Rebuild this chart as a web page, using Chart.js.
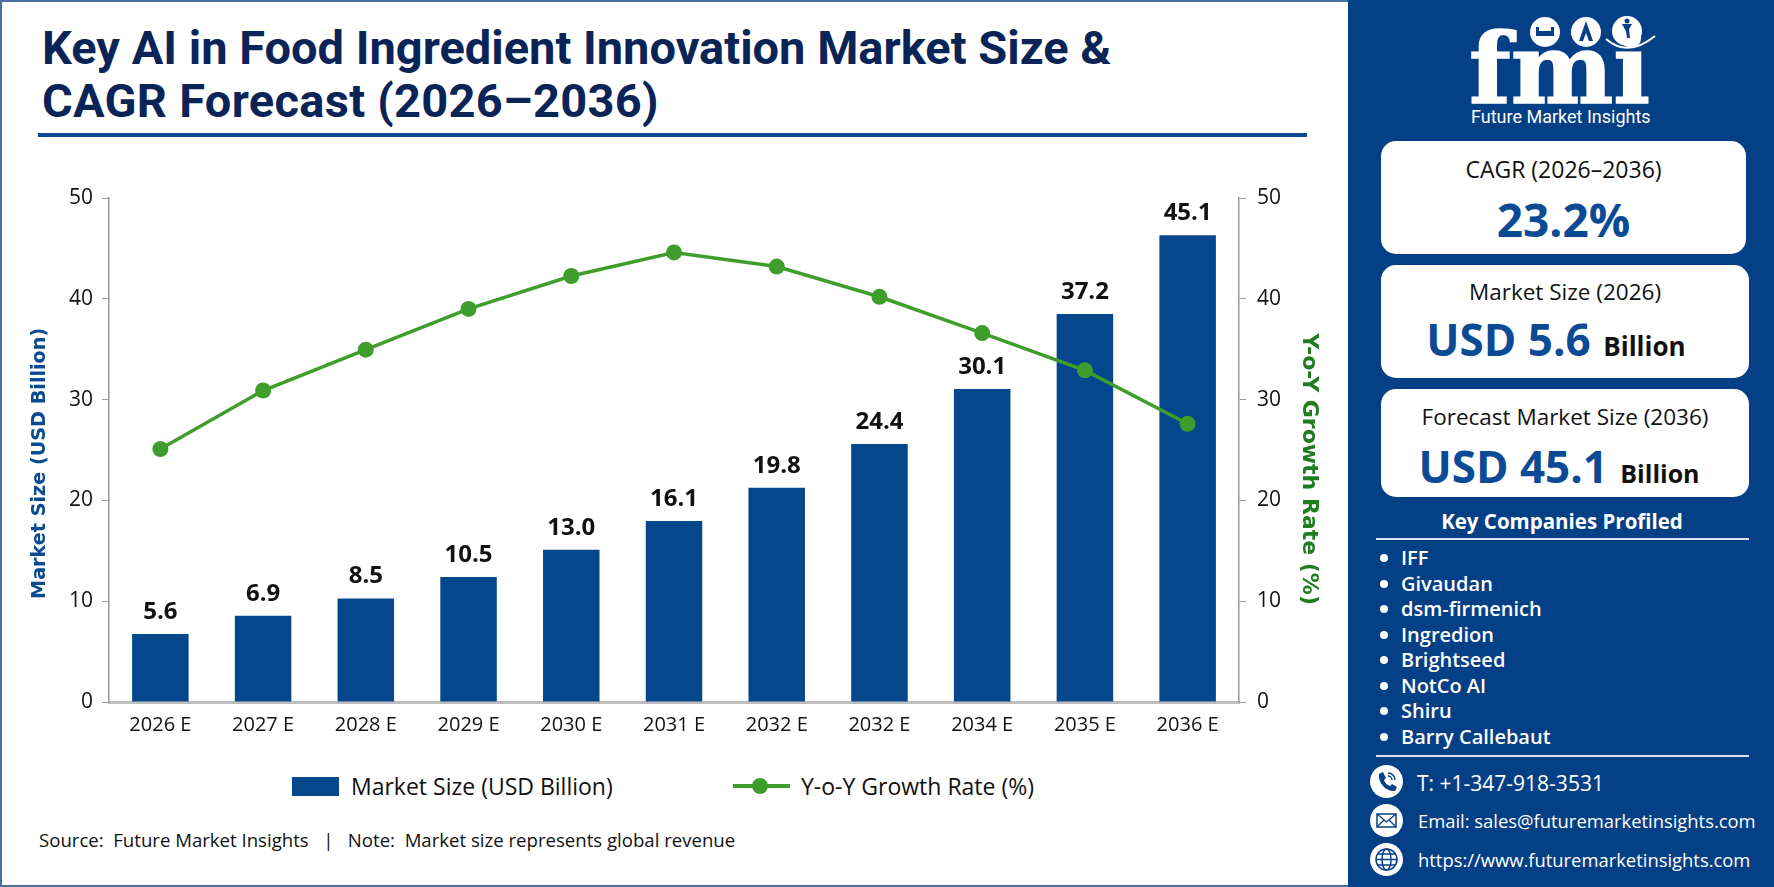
<!DOCTYPE html>
<html>
<head>
<meta charset="utf-8">
<title>Key AI in Food Ingredient Innovation Market Size</title>
<script src="https://cdn.jsdelivr.net/npm/chart.js@4"></script>
<style>
  html, body { margin: 0; padding: 0; background: #fff; }
  body { width: 1774px; height: 887px; position: relative; overflow: hidden; font-family: "Open Sans", sans-serif; color: #111; }
  .abs { position: absolute; white-space: nowrap; }
  #frame { left: 0; top: 0; width: 1348px; height: 887px; box-sizing: border-box; border: solid #4a70a0; border-width: 2px 0 2px 2px; }
  #chartBox { position: absolute; left: 0; top: 0; }
  #title { left: 42px; top: 21px; font-size: 47px; line-height: 53px; font-weight: 700; color: #0b2458; font-family: Roboto, sans-serif; }
  #rule { left: 38px; top: 133px; width: 1269px; height: 4px; background: #0d4a94; }
  .lgText { font-size: 23px; line-height: 30px; }
  #source { left: 39px; top: 827px; font-size: 18.6px; line-height: 26px; white-space: pre; }
  #side { left: 1348px; top: 0; width: 426px; height: 887px; background: #053f85; }
  .card { position: absolute; background: #fff; border-radius: 15px; }
  .cardHead { position: absolute; left: 0; width: 100%; box-sizing: border-box; text-align: center; font-size: 22.5px; line-height: 28px; color: #111; }
  .big { font-weight: 700; color: #0b4a94; }
  .blk { font-weight: 700; color: #111; }
  .white { color: #fff; }
  .hr { position: absolute; height: 2px; background: #d8e2f0; }
  .dot { position: absolute; width: 8px; height: 8px; border-radius: 50%; background: #fff; }
  .icon { position: absolute; width: 33px; height: 33px; }
</style>
</head>
<body>
<div class="abs" id="frame"></div>
<div class="abs" id="title"><span id="t1">Key AI in Food Ingredient Innovation Market Size &amp;</span><br><span id="t2" style="letter-spacing:0.3px">CAGR Forecast (2026–2036)</span></div>
<div class="abs" id="rule"></div>
<div id="chartBox"><canvas id="myChart" width="1353" height="760"></canvas></div>
<div class="abs" id="legend"></div>
<div class="abs" id="source">Source:  Future Market Insights   |   Note:  Market size represents global revenue</div>

<div class="abs" id="side"></div>
<svg class="abs" style="left:1348px;top:0" width="426" height="112" viewBox="1348 0 426 112">
  <text x="1469" y="103" font-family="DejaVu Serif" font-weight="700" font-size="97" fill="#fff" stroke="#fff" stroke-width="1.5">fmi</text>
  <circle cx="1545" cy="32" r="15" fill="#fff"/>
  <circle cx="1586" cy="32" r="15" fill="#fff"/>
  <circle cx="1627" cy="31" r="15" fill="#fff"/>
  <path d="M1536 27v9h18v-9h-3v4h-12v-4z" fill="#053f85"/>
  <path d="M1586 21l7 20h-4l-3-8-3 8h-4z" fill="#053f85"/>
  <path d="M1622 24h10l-3 5 1 9h-3l-1-7z" fill="#053f85"/>
  <circle cx="1627" cy="21" r="2.5" fill="#053f85"/>
  <path d="M1606 39q22 19 49-3" fill="none" stroke="#fff" stroke-width="2"/>
</svg>
<div class="abs white" style="left:1471px;top:103px;font-size:18px;line-height:28px;font-family:Roboto,sans-serif">Future Market Insights</div>

<div class="card" style="left:1381px;top:141px;width:365px;height:113px">
  <div class="cardHead" style="top:14px;font-size:23px">CAGR (2026–2036)</div>
  <div class="cardHead big" style="top:46px;font-size:46px;line-height:64px">23.2%</div>
</div>
<div class="card" style="left:1381px;top:265px;width:368px;height:113px">
  <div class="cardHead" style="top:13px">Market Size (2026)</div>
  <div class="cardHead" style="top:42px;line-height:64px;padding-right:18px"><span class="big" style="font-size:44px">USD 5.6</span> <span class="blk" style="font-size:26px">&nbsp;Billion</span></div>
</div>
<div class="card" style="left:1381px;top:389px;width:368px;height:108px">
  <div class="cardHead" style="top:14px">Forecast Market Size (2036)</div>
  <div class="cardHead" style="top:45px;line-height:64px;padding-right:12px"><span class="big" style="font-size:44px">USD 45.1</span> <span class="blk" style="font-size:25px">&nbsp;Billion</span></div>
</div>

<div class="abs white" style="left:1381px;width:362px;top:507px;text-align:center;font-size:20.5px;line-height:28px;font-weight:700">Key Companies Profiled</div>
<div class="hr" style="left:1376px;top:538px;width:373px"></div>
<div id="companies"></div>
<div class="hr" style="left:1376px;top:755px;width:373px"></div>

<svg class="icon" style="left:1370px;top:765px" viewBox="0 0 33 33"><circle cx="16.5" cy="16.5" r="16.5" fill="#fff"/><path d="M9 9l4-2 3 6-2 2c1 3 3 5 6 6l2-2 5 3-2 4c-9 1-17-8-16-17z" fill="#053f85"/><path d="M18 8a7 7 0 0 1 7 7M18 11a4 4 0 0 1 4 4" fill="none" stroke="#053f85" stroke-width="1.5"/></svg>
<svg class="icon" style="left:1370px;top:804px" viewBox="0 0 33 33"><circle cx="16.5" cy="16.5" r="16.5" fill="#fff"/><rect x="7" y="10" width="19" height="13" fill="none" stroke="#053f85" stroke-width="1.5"/><path d="M7 10l9.500 8 9.500-8M7 23l7-7M26 23l-7-7" fill="none" stroke="#053f85" stroke-width="1.3"/></svg>
<svg class="icon" style="left:1370px;top:843px" viewBox="0 0 33 33"><circle cx="16.5" cy="16.500" r="16.5" fill="#fff"/><g fill="none" stroke="#053f85" stroke-width="1.500"><circle cx="16.5" cy="16.5" r="10.500"/><ellipse cx="16.5" cy="16.5" rx="4.500" ry="10.500"/><path d="M6 16.500h21M8 11h17M8 22h17"/></g></svg>
<div class="abs white" style="left:1417px;top:769px;font-size:21px;line-height:28px">T: +1-347-918-3531</div>
<div class="abs white" style="left:1418px;top:807px;font-size:18.4px;line-height:28px">Email: sales@futuremarketinsights.com</div>
<div class="abs white" style="left:1418px;top:846px;font-size:18.4px;line-height:28px">https://www.futuremarketinsights.com</div>

<script>
const years = ['2026 E','2027 E','2028 E','2029 E','2030 E','2031 E','2032 E','2032 E','2034 E','2035 E','2036 E'];
// bar heights, the printed labels don't line up with them
const marketSize = [6.75, 8.56, 10.28, 12.4, 15.1, 17.96, 21.26, 25.6, 31.05, 38.5, 46.3];
const barLabels = ['5.6','6.9','8.5','10.5','13.0','16.1','19.8','24.4','30.1','37.2','45.1'];
const growthRate = [25.1, 30.9, 34.95, 39.0, 42.26, 44.6, 43.2, 40.2, 36.6, 32.9, 27.6];
const axisTicks = [0, 10, 20, 30, 40, 50];
const companies = ['IFF','Givaudan','dsm-firmenich','Ingredion','Brightseed','NotCo AI','Shiru','Barry Callebaut'];

const BLUE = '#04478c';
const GREEN = '#3f9e2b';
const FONT = '"Open Sans", sans-serif';

// company list in the side panel
let html = '';
companies.forEach(function(name, i) {
  const y = 558 + i * 25.55;
  html += '<div class="dot" style="left:1380px;top:' + (y - 4) + 'px"></div>';
  html += '<div class="abs white" style="left:1401px;top:' + (y - 14) + 'px;font-size:20px;line-height:28px;font-weight:600">' + name + '</div>';
});
document.getElementById('companies').innerHTML = html;

// html legend, needs more room between the items than the built in one gives
document.getElementById('legend').innerHTML =
  '<div class="abs" style="left:292px;top:777px;width:47px;height:19px;background:' + BLUE + '"></div>' +
  '<div class="abs lgText" style="left:351px;top:771px">Market Size (USD Billion)</div>' +
  '<svg class="abs" style="left:733px;top:774px" width="57" height="24"><line x1="0" y1="12" x2="57" y2="12" stroke="' + GREEN + '" stroke-width="4"/><circle cx="27" cy="12" r="8" fill="' + GREEN + '"/></svg>' +
  '<div class="abs lgText" style="left:801px;top:771px">Y-o-Y Growth Rate (%)</div>';

// value labels above the bars
const barLabelPlugin = {
  id: 'barLabelPlugin',
  afterDatasetsDraw: function(chart) {
    const ctx = chart.ctx;
    const bars = chart.getDatasetMeta(0).data;
    ctx.save();
    ctx.font = '700 24px ' + FONT;
    ctx.fillStyle = '#111';
    ctx.textAlign = 'center';
    ctx.textBaseline = 'bottom';
    bars.forEach(function(bar, i) {
      ctx.fillText(barLabels[i], bar.x, bar.y - 10);
    });
    ctx.restore();
  }
};

const ctx = document.getElementById('myChart').getContext('2d');
new Chart(ctx, {
  data: {
    labels: years,
    datasets: [
      {
        type: 'bar',
        label: 'Market Size (USD Billion)',
        yAxisID: 'y',
        data: marketSize,
        backgroundColor: BLUE,
        categoryPercentage: 1,
        barPercentage: 0.55,
        order: 2
      },
      {
        type: 'line',
        label: 'Y-o-Y Growth Rate (%)',
        yAxisID: 'y1',
        data: growthRate,
        borderColor: GREEN,
        borderWidth: 3.5,
        pointRadius: 8,
        pointBackgroundColor: GREEN,
        pointBorderWidth: 0,
        tension: 0,
        order: 1
      }
    ]
  },
  plugins: [barLabelPlugin],
  options: {
    responsive: false,
    animation: false,
    devicePixelRatio: 1,
    layout: { padding: { top: 198, left: 0, right: 0, bottom: 0 } },
    plugins: {
      legend: { display: false },
      tooltip: { enabled: false }
    },
    scales: {
      x: {
        offset: true,
        grid: { display: false },
        border: { color: '#bdbdbd', width: 3 },
        ticks: { color: '#111', font: { family: FONT, size: 20 }, padding: 3, maxRotation: 0 },
        afterFit: function(scale) { scale.height = 58; }
      },
      y: {
        position: 'left',
        min: 0,
        max: 50,
        afterBuildTicks: function(scale) { scale.ticks = axisTicks.map(function(v) { return { value: v }; }); },
        grid: { drawOnChartArea: false, color: '#999', tickLength: 7 },
        border: { color: '#999', width: 1.5 },
        ticks: { color: '#111', font: { family: FONT, size: 21 }, padding: 9 },
        title: {
          display: true,
          text: 'Market Size (USD Billion)    ',
          color: '#0a4a93',
          font: { family: '"DejaVu Sans"', size: 19.2, weight: 'bold' },
          padding: { top: 28, bottom: 0 }
        },
        afterFit: function(scale) { scale.width = 109; }
      },
      y1: {
        position: 'right',
        min: 0,
        max: 50,
        afterBuildTicks: function(scale) { scale.ticks = axisTicks.map(function(v) { return { value: v }; }); },
        grid: { drawOnChartArea: false, color: '#999', tickLength: 7 },
        border: { color: '#999', width: 1.5 },
        ticks: { color: '#111', font: { family: FONT, size: 21 }, padding: 11 },
        title: {
          display: true,
          text: '     Y-o-Y Growth Rate (%)',
          color: '#1f7d1f',
          font: { family: '"DejaVu Sans"', size: 22, weight: 'bold' },
          padding: { top: 31, bottom: 0 }
        },
        afterFit: function(scale) { scale.width = 114; }
      }
    }
  }
});
</script>
</body>
</html>
